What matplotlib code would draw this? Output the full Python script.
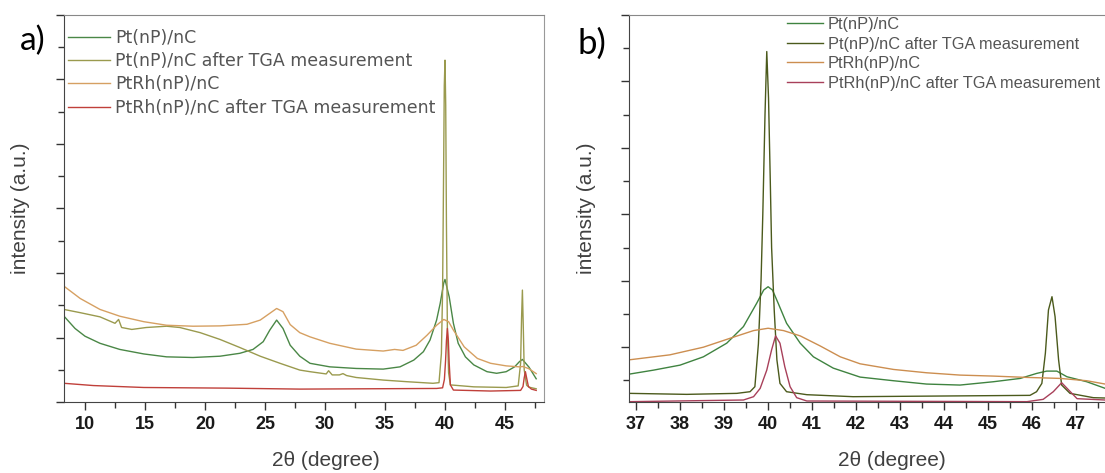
import matplotlib
matplotlib.use("Agg")
import matplotlib.pyplot as plt
from matplotlib.ticker import MultipleLocator, NullFormatter

plt.rcParams['font.family'] = ['Liberation Sans', 'DejaVu Sans']

labels = ["Pt(nP)/nC", "Pt(nP)/nC after TGA measurement",
          "PtRh(nP)/nC", "PtRh(nP)/nC after TGA measurement"]
colors_a = ["#4a8746", "#9a9a4e", "#d6a062", "#c0403a"]
colors_b = ["#3f8340", "#4b5a1c", "#cc8e50", "#a8405a"]

# ---- panel a: wide scan (2theta, intensity)
a_pt_x = [8.25, 9.17, 10.0, 11.25, 12.9, 14.9, 16.8, 19.0, 21.25, 22.9, 24.0, 24.85, 25.4, 25.97, 26.5, 27.1, 27.9,
          28.75, 30.4, 32.6, 34.85, 36.25, 37.4, 38.2, 38.75, 39.3, 39.6, 39.9, 40.0, 40.35, 40.7, 41.1, 41.7, 42.4,
          43.5, 44.3, 45.1, 45.8, 46.2, 46.45, 47.0, 47.6]
a_pt_y = [2.66, 2.28, 2.04, 1.82, 1.63, 1.49, 1.40, 1.38, 1.42, 1.51, 1.63, 1.87, 2.23, 2.54, 2.28, 1.76, 1.42,
          1.20, 1.09, 1.04, 1.02, 1.09, 1.30, 1.56, 1.92, 2.54, 3.06, 3.70, 3.80, 3.26, 2.44, 1.82, 1.40, 1.15,
          0.94, 0.89, 0.94, 1.09, 1.25, 1.32, 1.08, 0.72]

a_tga_x = [8.25, 9.6, 11.25, 12.5, 12.8, 13.05, 13.9, 15.1, 16.8, 17.9, 19.6, 21.25, 22.9, 24.6, 26.25, 27.9,
           28.75, 30.1, 30.3, 30.6, 31.2, 31.5, 31.8, 32.6, 34.85, 36.8, 39.0, 39.5, 39.7, 39.8, 39.88, 39.94,
           40.0, 40.06, 40.12, 40.2, 40.3, 40.45, 42.4, 45.1, 46.1, 46.3, 46.38, 46.45, 46.52, 46.6, 46.8, 47.0, 47.6]
a_tga_y = [2.87, 2.77, 2.64, 2.44, 2.56, 2.31, 2.25, 2.31, 2.35, 2.31, 2.15, 1.94, 1.69, 1.42, 1.20, 0.99,
           0.94, 0.87, 0.97, 0.84, 0.84, 0.88, 0.82, 0.76, 0.68, 0.63, 0.58, 0.60, 1.50, 3.50, 7.00, 9.80,
           10.60, 9.20, 5.50, 2.20, 0.90, 0.53, 0.47, 0.45, 0.50, 1.20, 2.60, 3.47, 2.40, 1.00, 0.52, 0.46, 0.41]

a_rh_x = [8.25, 9.6, 11.25, 12.9, 14.9, 16.8, 19.0, 21.25, 23.5, 24.6, 25.4, 25.97, 26.5, 27.1, 27.9, 28.75,
          30.4, 32.6, 34.85, 35.8, 36.5, 37.6, 38.5, 39.3, 39.9, 40.3, 40.7, 41.6, 42.7, 43.8, 45.1, 46.2, 46.5,
          47.0, 47.6]
a_rh_y = [3.59, 3.21, 2.87, 2.66, 2.49, 2.38, 2.35, 2.36, 2.41, 2.54, 2.75, 2.90, 2.80, 2.40, 2.15, 2.02,
          1.82, 1.64, 1.58, 1.63, 1.60, 1.76, 2.07, 2.38, 2.56, 2.49, 2.23, 1.71, 1.35, 1.20, 1.12, 1.09, 1.10,
          1.03, 0.88]

a_rhtga_x = [8.25, 10.7, 14.9, 21.8, 27.9, 39.3, 39.8, 39.95, 40.05, 40.12, 40.2, 40.28, 40.35, 40.45, 40.7,
             43.8, 46.3, 46.5, 46.6, 46.7, 46.8, 46.95, 47.2, 47.6]
a_rhtga_y = [0.58, 0.51, 0.45, 0.43, 0.40, 0.42, 0.44, 0.70, 1.30, 1.90, 2.28, 1.90, 1.20, 0.53, 0.37,
             0.34, 0.36, 0.48, 0.75, 0.94, 0.75, 0.48, 0.40, 0.36]

# ---- panel b: zoom on the Pt reflections
b_pt_x = [36.85, 37.4, 38.0, 38.53, 39.06, 39.44, 39.74, 39.9, 40.0, 40.1, 40.23, 40.42, 40.73, 41.03, 41.48,
          42.09, 42.85, 43.6, 44.36, 45.12, 45.73, 46.1, 46.33, 46.56, 46.79, 47.24, 47.66]
b_pt_y = [1.19, 1.31, 1.46, 1.71, 2.12, 2.62, 3.32, 3.72, 3.82, 3.72, 3.32, 2.72, 2.12, 1.71, 1.37,
          1.10, 0.99, 0.89, 0.86, 0.96, 1.06, 1.21, 1.28, 1.28, 1.11, 0.96, 0.76]

b_tga_x = [36.85, 38.15, 39.29, 39.59, 39.7, 39.78, 39.84, 39.88, 39.93, 39.97, 40.01, 40.05, 40.08, 40.14,
           40.2, 40.27, 40.42, 40.88, 41.93, 45.95, 46.1, 46.22, 46.3, 46.37, 46.45, 46.52, 46.6, 46.67, 46.86,
           47.39, 47.66]
b_tga_y = [0.61, 0.58, 0.61, 0.66, 0.81, 2.10, 4.00, 6.00, 9.00, 10.90, 9.50, 7.00, 5.00, 3.10,
           1.62, 0.91, 0.66, 0.57, 0.51, 0.55, 0.66, 0.91, 1.82, 3.12, 3.52, 2.92, 1.62, 0.86, 0.61,
           0.48, 0.47]

b_rh_x = [36.85, 37.77, 38.53, 39.14, 39.67, 40.0, 40.35, 40.73, 41.18, 41.64, 42.09, 42.85, 43.6, 44.36,
          45.12, 45.88, 46.64, 47.24, 47.66]
b_rh_y = [1.62, 1.77, 2.00, 2.27, 2.50, 2.57, 2.50, 2.34, 2.04, 1.71, 1.50, 1.33, 1.23, 1.16,
          1.13, 1.09, 1.06, 0.99, 0.89]

b_rhtga_x = [36.85, 39.44, 39.67, 39.82, 39.97, 40.08, 40.17, 40.27, 40.38, 40.5, 40.65, 40.88, 45.88, 46.25,
             46.48, 46.67, 46.83, 47.02, 47.66]
b_rhtga_y = [0.36, 0.41, 0.51, 0.76, 1.31, 1.92, 2.34, 2.12, 1.41, 0.81, 0.48, 0.38, 0.36, 0.43,
             0.66, 0.93, 0.71, 0.45, 0.41]

W, H = 1105, 473
fig = plt.figure(figsize=(W / 100, H / 100), dpi=100)
ax1 = fig.add_axes([64 / W, 71 / H, 480 / W, 387 / H])
ax2 = fig.add_axes([629 / W, 71 / H, 478 / W, 387 / H])

data_a = [(a_pt_x, a_pt_y), (a_tga_x, a_tga_y), (a_rh_x, a_rh_y), (a_rhtga_x, a_rhtga_y)]
data_b = [(b_pt_x, b_pt_y), (b_tga_x, b_tga_y), (b_rh_x, b_rh_y), (b_rhtga_x, b_rhtga_y)]

for (x, y), c, lab in zip(data_a, colors_a, labels):
    ax1.plot(x, y, color=c, lw=1.0, label=lab)
for (x, y), c, lab in zip(data_b, colors_b, labels):
    ax2.plot(x, y, color=c, lw=1.0, label=lab)

ax1.set_xlim(8.25, 48.25)
ax1.set_ylim(0, 12)
ax2.set_xlim(36.84, 47.7)
ax2.set_ylim(0.35, 12)

ax1.xaxis.set_major_locator(MultipleLocator(5))
ax1.xaxis.set_minor_locator(MultipleLocator(2.5))
ax2.xaxis.set_major_locator(MultipleLocator(1))
ax2.xaxis.set_minor_locator(MultipleLocator(0.5))

for ax in (ax1, ax2):
    ax.yaxis.set_major_locator(MultipleLocator(2))
    ax.yaxis.set_minor_locator(MultipleLocator(1))
    ax.yaxis.set_major_formatter(NullFormatter())
    ax.tick_params(which='major', direction='out', length=6, width=1, colors='#333333',
                   labelsize=13, pad=4, labelcolor='#1a1a1a')
    ax.tick_params(which='minor', direction='out', length=4, width=1, colors='#333333')
    for lab in ax.get_xticklabels():
        lab.set_fontweight('bold')
    ax.spines['left'].set_color('#444444')
    ax.spines['bottom'].set_color('#444444')
    ax.spines['top'].set_color('#888888')
    ax.spines['right'].set_color('#999999')
ax2.spines['right'].set_visible(False)

# axis titles
fig.text(326 / W, 1 - 460 / H, "2θ (degree)", fontsize=15, color='#404040', ha='center', va='center')
fig.text(892 / W, 1 - 460 / H, "2θ (degree)", fontsize=15, color='#404040', ha='center', va='center')
fig.text(20 / W, 1 - 208 / H, "intensity (a.u.)", fontsize=15, color='#404040', rotation=90,
         ha='center', va='center')
fig.text(586 / W, 1 - 208 / H, "intensity (a.u.)", fontsize=15, color='#404040', rotation=90,
         ha='center', va='center')

leg1 = ax1.legend(loc='upper left', bbox_to_anchor=(68 / W, 1 - 29 / H), bbox_transform=fig.transFigure,
                  frameon=False, prop={'family': 'DejaVu Sans', 'size': 12.5}, borderpad=0, borderaxespad=0,
                  handlelength=2.4, handletextpad=0.3, labelspacing=0.3)
for t in leg1.get_texts():
    t.set_color('#555555')
leg2 = ax2.legend(loc='upper left', bbox_to_anchor=(787 / W, 1 - 17 / H), bbox_transform=fig.transFigure,
                  frameon=False, prop={'family': 'Liberation Sans', 'size': 11.8}, borderpad=0,
                  borderaxespad=0, handlelength=2.2, handletextpad=0.3, labelspacing=0.28)
for t in leg2.get_texts():
    t.set_color('#555555')

fig.text(20 / W, 1 - 41 / H, "a)", fontsize=24, family='Lato', va='center', ha='left')
fig.text(577 / W, 1 - 44 / H, "b)", fontsize=25, family='Lato', va='center', ha='left')

fig.savefig("out.png", dpi=100)
